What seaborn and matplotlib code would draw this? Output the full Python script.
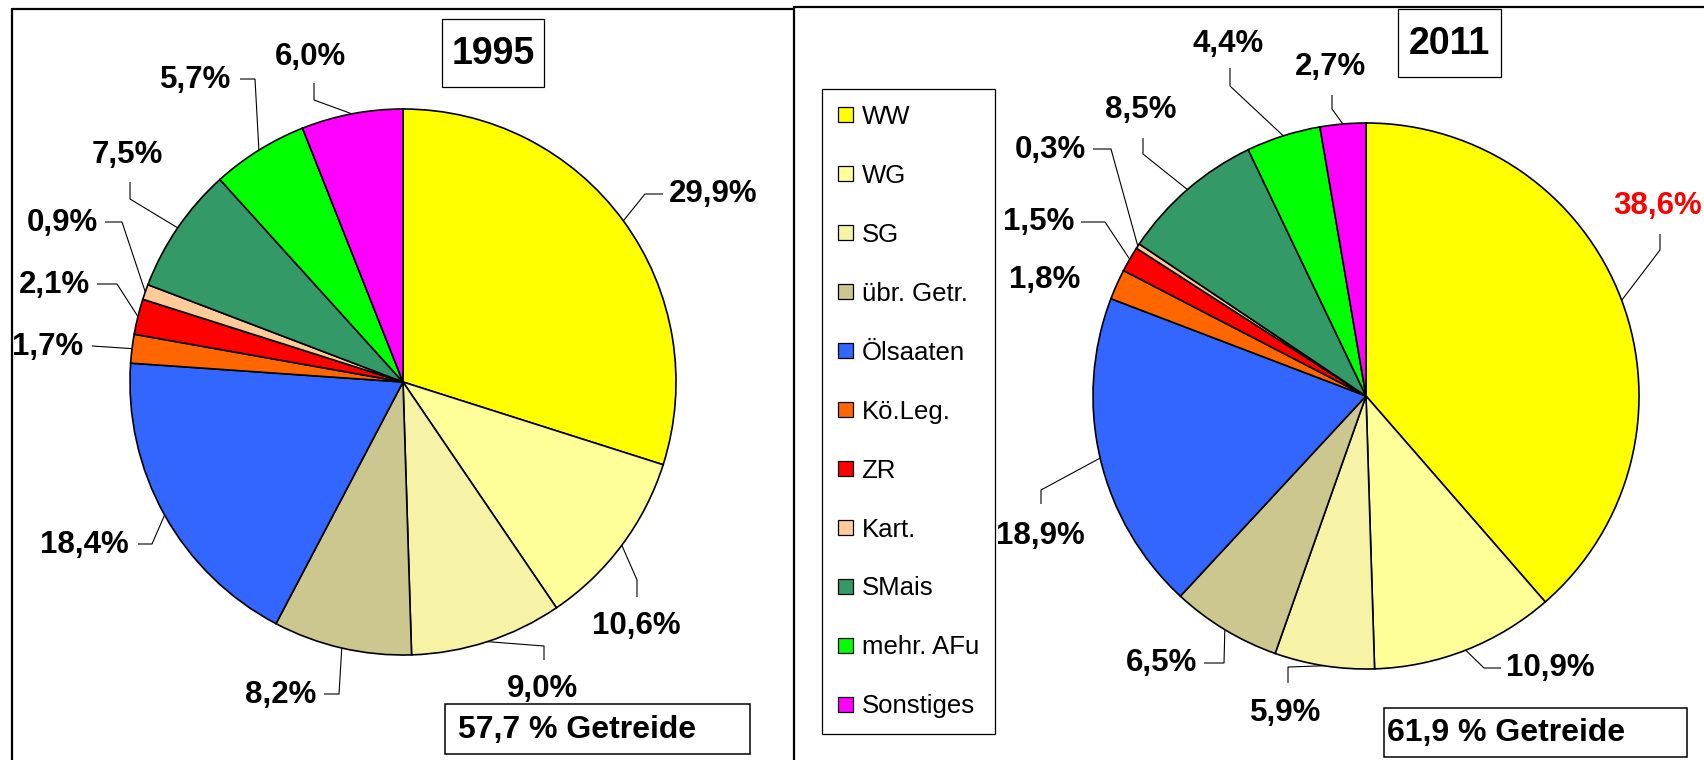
import numpy as np
import matplotlib
matplotlib.use("Agg")
import matplotlib.pyplot as plt
import seaborn as sns
from matplotlib.patches import Rectangle, Patch

# ---------------- data ----------------
categories = ["WW", "WG", "SG", "übr. Getr.", "Ölsaaten", "Kö.Leg.", "ZR",
              "Kart.", "SMais", "mehr. AFu", "Sonstiges"]
share_1995 = [29.9, 10.6, 9.0, 8.2, 18.4, 1.7, 2.1, 0.9, 7.5, 5.7, 6.0]
share_2011 = [38.6, 10.9, 5.9, 6.5, 18.9, 1.8, 1.5, 0.3, 8.5, 4.4, 2.7]
years = ["1995", "2011"]
getreide = [57.7, 61.9]
colors = ["#FFFF00", "#FFFF99", "#F6F2A6", "#CCC78E", "#3366FF", "#FF6600",
          "#FF0000", "#FFCC99", "#339966", "#00FF00", "#FF00FF"]

# ---------------- style ----------------
sns.set_theme(style="white")
plt.rcParams["font.family"] = ["Liberation Sans", "DejaVu Sans"]
plt.rcParams["text.color"] = "black"
palette = sns.color_palette(colors)

W, H = 1704, 760
R = 273
centers = [(403, 382), (1366, 396)]

# label layout in pixels: (text centre x, text centre y, elbow, end)
layout = [
    [(713, 194, (645, 194), (663, 194)),
     (636, 626, (637, 580), (637, 597)),
     (543, 689, (544, 646), (544, 660)),
     (281, 695, (339, 694), (324, 694)),
     (84, 545, (152, 544), (138, 544)),
     (48, 347, None, (92, 346)),
     (54, 285, (117, 284), (97, 284)),
     (62, 223, (122, 222), (105, 222)),
     (127, 155, (130, 199), (130, 182)),
     (196, 80, (255, 79), (240, 79)),
     (311, 57, (314, 100), (314, 83))],
    [(1658, 206, (1660, 250), (1660, 234)),
     (1550, 668, (1484, 668), (1501, 668)),
     (1286, 713, (1288, 667), (1288, 683)),
     (1162, 663, (1224, 663), (1204, 663)),
     (1040, 536, (1041, 490), (1041, 504)),
     (1045, 280, None, None),
     (1039, 222, (1105, 222), (1081, 222)),
     (1050, 150, (1111, 149), (1093, 149)),
     (1141, 110, (1143, 154), (1143, 138)),
     (1228, 44, (1230, 86), (1230, 68)),
     (1330, 67, (1332, 109), (1332, 95))],
]
title_boxes = [(442, 19, 544, 87), (1398, 9, 1501, 77)]
getreide_boxes = [(445, 704, 750, 754), (1384, 708, 1687, 757)]
getreide_text_x = [458, 1387]


def fmt(v):
    return f"{v:.1f}".replace(".", ",") + "%"


fig = plt.figure(figsize=(W / 100, H / 100), dpi=100)
fig.patch.set_facecolor("white")

overlay = fig.add_axes([0, 0, 1, 1], zorder=5)
overlay.set_xlim(0, W)
overlay.set_ylim(H, 0)
overlay.axis("off")
overlay.patch.set_alpha(0)

for k, values in enumerate([share_1995, share_2011]):
    cx, cy = centers[k]
    ax = fig.add_axes([0, 0, 1, 1], zorder=1)
    wedges, _ = ax.pie(values, colors=palette, startangle=90, counterclock=False,
                       wedgeprops=dict(edgecolor="black", linewidth=1.2))
    ax.set_aspect("auto")
    ax.set_xlim(-cx / R, (W - cx) / R)
    ax.set_ylim(-(H - cy) / R, cy / R)
    ax.axis("off")
    ax.patch.set_alpha(0)

    for i, (w, v) in enumerate(zip(wedges, values)):
        tx, ty, elbow, end = layout[k][i]
        mid = np.deg2rad((w.theta1 + w.theta2) / 2)
        sx, sy = cx + R * np.cos(mid), cy - R * np.sin(mid)
        if end is not None:
            pts = [(sx, sy)] + ([elbow] if elbow is not None else []) + [end]
            overlay.plot([p[0] for p in pts], [p[1] for p in pts], color="black",
                         lw=0.8, solid_capstyle="butt", clip_on=False)
        col = "#FF0000" if (k == 1 and i == 0) else "black"
        overlay.text(tx, ty, fmt(v), ha="center", va="center", fontsize=22.5,
                     fontweight="bold", color=col)

    # title box
    x0, y0, x1, y1 = title_boxes[k]
    overlay.add_patch(Rectangle((x0, y0), x1 - x0, y1 - y0, fill=False,
                                edgecolor="black", lw=0.9))
    overlay.text((x0 + x1) / 2, (y0 + y1) / 2 + 1, years[k], ha="center", va="center",
                 fontsize=27, fontweight="bold", color="black")
    # Getreide box
    x0, y0, x1, y1 = getreide_boxes[k]
    overlay.add_patch(Rectangle((x0, y0), x1 - x0, y1 - y0, fill=False,
                                edgecolor="black", lw=1.1))
    overlay.text(getreide_text_x[k], (y0 + y1) / 2 + 1,
                 f"{getreide[k]:.1f}".replace(".", ",") + " % Getreide",
                 ha="left", va="center", fontsize=23, fontweight="bold", color="black")

# panel borders
blw = 1.6
overlay.plot([12, 12], [9, H + 5], color="black", lw=blw, clip_on=False)
overlay.plot([12, 794], [9, 9], color="black", lw=blw, clip_on=False)
overlay.plot([794, 794], [7, H + 5], color="black", lw=blw, clip_on=False)
overlay.plot([794, W + 5], [7, 7], color="black", lw=blw, clip_on=False)

# legend
handles = [Patch(facecolor=c, edgecolor="black", linewidth=0.9) for c in palette]
leg = overlay.legend(handles, categories, loc="upper left",
                     bbox_to_anchor=(822 / W, 1 - 89 / H), bbox_transform=fig.transFigure,
                     borderaxespad=0, fontsize=18.5, handlelength=0.6, handleheight=0.5,
                     handletextpad=0.32, labelspacing=1.36, borderpad=0.62,
                     frameon=True, fancybox=False, framealpha=1, edgecolor="black")
leg.get_frame().set_linewidth(0.9)
for t in leg.get_texts():
    t.set_color("black")

fig.savefig("out.png", dpi=100, facecolor="white")
